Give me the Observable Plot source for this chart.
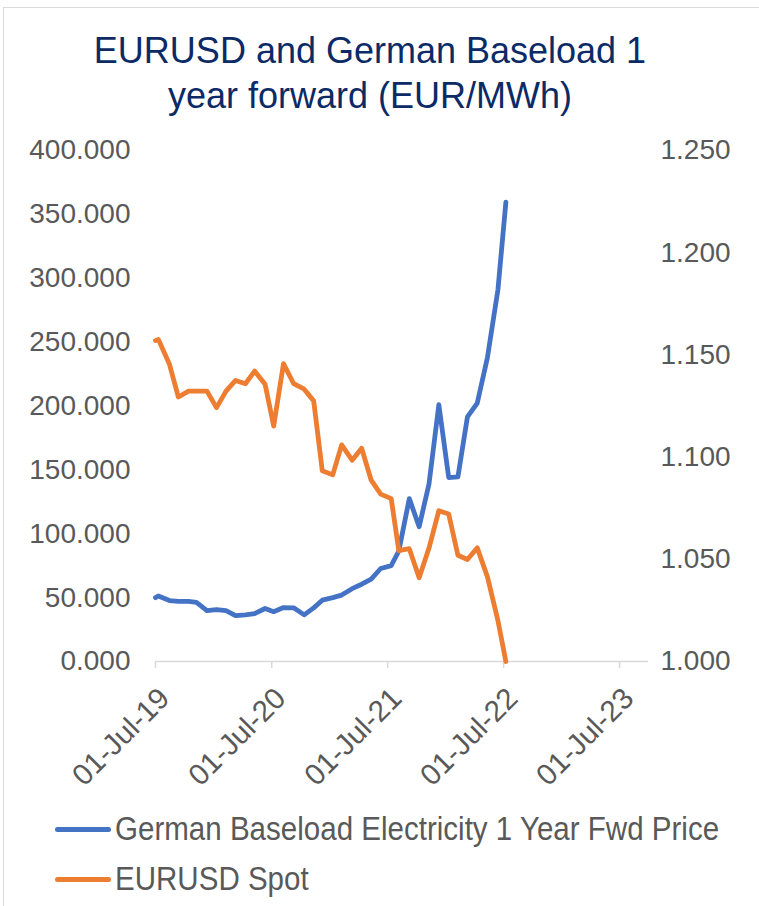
<!DOCTYPE html>
<html><head><meta charset="utf-8">
<script src="https://cdn.jsdelivr.net/npm/d3@7"></script>
<script src="https://cdn.jsdelivr.net/npm/@observablehq/plot@0.6"></script>
<style>
body{margin:0;background:#fff;width:759px;height:906px;overflow:hidden;position:relative;font-family:"Liberation Sans",Arial,sans-serif;}
#frame{position:absolute;left:3px;top:7px;width:800px;height:1000px;border-left:1.5px solid #d9d9d9;border-top:1.5px solid #d9d9d9;}
#title{position:absolute;left:0;width:740px;top:28px;text-align:center;font-size:36px;line-height:45px;color:#0b2a66;}
#chart{position:absolute;left:0;top:130px;}
#legend{position:absolute;left:55px;top:804px;color:#595959;font-family:"Liberation Sans",Arial,sans-serif;font-size:33px;}
.item{height:50px;line-height:50px;display:flex;align-items:center;white-space:nowrap;}
.sw{display:inline-block;width:56px;height:5px;border-radius:3px;margin-right:4px;flex:none;}
.lt{display:inline-block;transform:scaleX(0.895);transform-origin:left center;}
</style>
</head><body>
<div id="frame"></div>
<div id="title">EURUSD and German Baseload 1<br>year forward (EUR/MWh)</div>
<div id="chart"></div>
<div id="legend"></div>
<script>
const dates = ["2019-07-01","2019-07-10","2019-08-14","2019-09-11","2019-10-13","2019-11-07","2019-12-10","2020-01-09","2020-02-08","2020-03-09","2020-04-09","2020-05-08","2020-06-10","2020-07-07","2020-08-07","2020-09-08","2020-10-11","2020-11-10","2020-12-07","2021-01-09","2021-02-06","2021-03-11","2021-04-10","2021-05-10","2021-06-09","2021-07-12","2021-08-05","2021-09-07","2021-10-08","2021-11-08","2021-12-09","2022-01-09","2022-02-07","2022-03-09","2022-04-09","2022-05-11","2022-06-13","2022-07-08"];
const power = [50, 51.3, 47.7, 47.1, 47, 46.3, 39.8, 40.6, 39.8, 35.9, 36.5, 37.5, 41.5, 39, 42.2, 42, 36.5, 42, 48, 50, 52, 57, 60.5, 64.5, 72.8, 75, 86.5, 127.5, 105.5, 139, 201, 144, 144.5, 191.5, 202.3, 238, 291, 359.5];
const eurusd = [1.157, 1.1576, 1.1454, 1.1294, 1.1323, 1.1323, 1.1323, 1.1242, 1.1323, 1.1375, 1.1359, 1.1421, 1.1356, 1.1152, 1.1457, 1.1359, 1.1332, 1.1275, 1.0933, 1.0913, 1.106, 1.0985, 1.1043, 1.0887, 1.0819, 1.0797, 1.0542, 1.0552, 1.041, 1.0555, 1.0738, 1.0722, 1.052, 1.0499, 1.0556, 1.0414, 1.02, 1.0];
const xTicks = ["2019-07-01","2020-07-01","2021-07-01","2022-07-01","2023-07-01"];
const leftTicks = [0, 50, 100, 150, 200, 250, 300, 350, 400];
const rightTicks = [1.0, 1.05, 1.1, 1.15, 1.2, 1.25];
const seriesNames = ["German Baseload Electricity 1 Year Fwd Price", "EURUSD Spot"];
const seriesColors = ["#4472c4", "#ed7d31"];

const rightMin = 1.0, rightMax = 1.25, leftMax = 400;
const toLeft = v => (v - rightMin) / (rightMax - rightMin) * leftMax;
const fromLeft = d => rightMin + d / leftMax * (rightMax - rightMin);
const parse = d3.utcParse("%Y-%m-%d");
const data = dates.map((d, i) => ({date: parse(d), power: power[i], fx: eurusd[i]}));
const fmtDate = d3.utcFormat("%d-%b-%y");
const xStart = parse("2019-07-01"), xEnd = parse("2023-09-30");

const chart = Plot.plot({
  width: 759, height: 680,
  marginLeft: 155, marginRight: 111, marginTop: 20, marginBottom: 149,
  x: {type: "utc", domain: [xStart, xEnd]},
  y: {domain: [0, 400]},
  style: {fontFamily: "'Liberation Sans', Arial, sans-serif", background: "transparent", overflow: "visible", color: "#595959"},
  marks: [
    Plot.axisY(leftTicks, {anchor: "left", tickSize: 0, tickPadding: 25, tickFormat: d => d.toFixed(3), fontSize: 28, label: null, fill: "#595959"}),
    Plot.axisY(rightTicks.map(toLeft), {anchor: "right", tickSize: 0, tickPadding: 12, tickFormat: d => fromLeft(d).toFixed(3), fontSize: 28, label: null, fill: "#595959"}),
    Plot.axisX(xTicks.map(parse), {anchor: "bottom", tickSize: 7, tickFormat: () => "", label: null, stroke: "#d9d9d9", strokeWidth: 1.5}),
    Plot.axisX(xTicks.map(parse), {anchor: "bottom", tickSize: 0, tickPadding: 32, tickRotate: -45, tickFormat: fmtDate, fontSize: 29.5, label: null, fill: "#595959", dx: 9}),
    Plot.ruleY([0], {stroke: "#d9d9d9", strokeWidth: 1.5, x1: xStart, x2: xEnd}),
    Plot.line(data, {x: "date", y: "power", stroke: seriesColors[0], strokeWidth: 4.8, strokeLinejoin: "round", strokeLinecap: "round"}),
    Plot.line(data, {x: "date", y: d => toLeft(d.fx), stroke: seriesColors[1], strokeWidth: 4.8, strokeLinejoin: "round", strokeLinecap: "round"})
  ]
});
document.getElementById("chart").appendChild(chart);

const legend = document.getElementById("legend");
seriesNames.forEach((n, i) => {
  const item = document.createElement("div");
  item.className = "item";
  const sw = document.createElement("span");
  sw.className = "sw";
  sw.style.background = seriesColors[i];
  item.appendChild(sw);
  const t = document.createElement("span");
  t.className = "lt";
  t.textContent = n;
  item.appendChild(t);
  legend.appendChild(item);
});
</script>
</body></html>
